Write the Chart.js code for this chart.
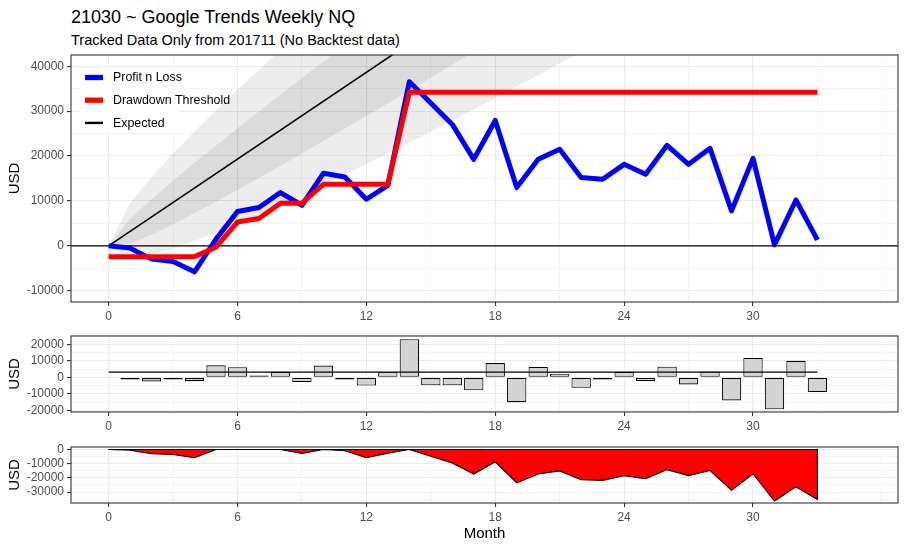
<!DOCTYPE html>
<html lang="en">
<head>
  <meta charset="UTF-8">
  <title>21030 ~ Google Trends Weekly NQ</title>
  <script src="https://cdn.jsdelivr.net/npm/chart.js"></script>
  <style>
    body {
      margin: 0;
      background: white;
      font-family: 'Liberation Sans', Arial, sans-serif;
    }

    #quadro {
      position: relative;
      width: 906px;
      height: 549px;
    }

    canvas {
      position: absolute;
      left: 0;
    }

    .titulo {
      position: absolute;
      left: 71px;
      top: 7.5px;
      font-size: 18px;
      line-height: 1;
      color: black;
      white-space: nowrap;
    }

    .subtitulo {
      position: absolute;
      left: 71px;
      top: 33px;
      font-size: 14.5px;
      line-height: 1;
      color: black;
      white-space: nowrap;
    }
  </style>
</head>
<body>
  <div id="quadro">
    <div class="titulo">21030 ~ Google Trends Weekly NQ</div>
    <div class="subtitulo">Tracked Data Only from 201711 (No Backtest data)</div>
    <canvas id="grafTopo" width="906" height="324" style="top:0px"></canvas>
    <canvas id="grafMeio" width="906" height="109" style="top:325px"></canvas>
    <canvas id="grafBase" width="906" height="115" style="top:434px"></canvas>
  </div>

  <script>
    // valores
    const meses = [0,1,2,3,4,5,6,7,8,9,10,11,12,13,14,15,16,17,18,19,20,21,22,23,24,25,26,27,28,29,30,31,32,33];
    const lucroPrejuizo = [0,-500,-2950,-3470,-5780,1500,7640,8530,11870,9040,16150,15330,10380,13490,36530,31800,27040,19270,27930,12980,19270,21490,15200,14820,18150,15930,22380,18150,21710,7780,19490,220,10220,1330];
    const limiteDrawdown = [-2400,-2400,-2400,-2400,-2400,-300,5300,6100,9500,9500,13700,13700,13700,13700,34200,34200,34200,34200,34200,34200,34200,34200,34200,34200,34200,34200,34200,34200,34200,34200,34200,34200,34200,34200];

    // barras mensais (meses 1..33)
    const mesesBarras = [1,2,3,4,5,6,7,8,9,10,11,12,13,14,15,16,17,18,19,20,21,22,23,24,25,26,27,28,29,30,31,32,33];
    const retornoMensal = [-500,-2450,-520,-2310,7280,6140,890,3340,-2830,7110,-820,-4950,3110,23040,-4730,-4760,-7770,8660,-14950,6290,2220,-6290,-380,3330,-2220,6450,-4230,3560,-13930,11710,-19270,10000,-8890];
    const mediaMensal = 3200;

    const drawdown = [0,-500,-2950,-3470,-5780,0,0,0,0,-2830,0,-820,-5770,-2660,0,-4730,-9490,-17260,-8600,-23550,-17260,-15040,-21330,-21710,-18380,-20600,-14150,-18380,-14820,-28750,-17040,-36310,-26310,-35200];

    // esperado e faixas (cinza)
    const esperadoMeses = [0, 35];
    const esperadoValores = [0, 112700];
    const mesesBanda = [0,1,2,3,4,5,6,7,8,9,10,11,12,13,14,15,16,17,18,19,20,21,22,23];
    const bandaSup2 = [0,9520,15350,20570,25480,30190,34750,39210,43580,47880,52120,56320,60460,64580,68650,72700,76720,80720,84690,88640,92570,96490,100390,104270];
    const bandaSup1 = [0,6020,10400,14510,18480,22360,26180,29950,33680,37380,41050,44710,48340,51960,55560,59140,62720,66290,69840,73390,76920,80450,83970,87490];
    const bandaInf1 = [0,420,2480,4810,7280,9840,12460,15130,17840,20580,23350,26130,28940,31760,34600,37460,40320,43200,46080,48980,51880,54790,57710,60630];
    const bandaInf2 = [0,-2680,-1900,-560,1080,2910,4870,6930,9070,11280,13540,15850,18200,20590,23000,25450,27920,30410,32930,35460,38010,40580,43170,45770];

    // eixos
    const limiteX = [-1.75, 36.75];
    const marcasX = [0,6,12,18,24,30];
    const gradeX = [0,3,6,9,12,15,18,21,24,27,30,33,36];
    const limiteYTopo = [-12500, 42500];
    const marcasYTopo = [-10000,0,10000,20000,30000,40000];
    const gradeYTopo = [-10000,-5000,0,5000,10000,15000,20000,25000,30000,35000,40000];
    const limiteYMeio = [-20900, 25000];
    const marcasYMeio = [-20000,-10000,0,10000,20000];
    const gradeYMeio = [-20000,-15000,-10000,-5000,0,5000,10000,15000,20000];
    const limiteYBase = [-37700, 1800];
    const marcasYBase = [-30000,-20000,-10000,0];
    const gradeYBase = [-35000,-30000,-25000,-20000,-15000,-10000,-5000,0];

    const fonte = "'Liberation Sans', Arial, sans-serif";

    function pontos(xs, ys) {
      return xs.map((x, i) => ({ x: x, y: ys[i] }));
    }

    function opcoesGrade(marcas) {
      const ehMarca = c => c.tick && marcas.includes(c.tick.value);
      return {
        offset: false,
        color: '#ebebeb',
        lineWidth: c => ehMarca(c) ? 1.1 : 0.55,
        tickLength: 4,
        tickWidth: 1.1,
        tickColor: c => ehMarca(c) ? '#333333' : 'rgba(0,0,0,0)'
      };
    }

    function eixoX(altura, comTitulo) {
      return {
        type: 'linear',
        min: limiteX[0],
        max: limiteX[1],
        offset: false,
        afterBuildTicks: s => { s.ticks = gradeX.map(v => ({ value: v })); },
        afterFit: s => { s.height = altura; },
        border: { display: false },
        grid: opcoesGrade(marcasX),
        ticks: {
          autoSkip: false,
          maxRotation: 0,
          padding: 3,
          color: '#4d4d4d',
          font: { family: fonte, size: 12 },
          callback: v => marcasX.includes(v) ? String(v) : ''
        },
        title: {
          display: comTitulo,
          text: 'Month',
          color: '#000000',
          font: { family: fonte, size: 15 },
          padding: { top: 0, bottom: 6 }
        }
      };
    }

    function eixoY(limite, grade, marcas) {
      return {
        type: 'linear',
        min: limite[0],
        max: limite[1],
        afterBuildTicks: s => { s.ticks = grade.map(v => ({ value: v })); },
        afterFit: s => { s.width = 71; },
        border: { display: false },
        grid: opcoesGrade(marcas),
        ticks: {
          autoSkip: false,
          padding: 3,
          color: '#4d4d4d',
          font: { family: fonte, size: 12 },
          callback: v => marcas.includes(v) ? String(v) : ''
        },
        title: {
          display: true,
          text: 'USD',
          color: '#000000',
          font: { family: fonte, size: 15 },
          padding: { top: 6, bottom: 0 }
        }
      };
    }

    // moldura do painel
    const moldura = {
      id: 'moldura',
      afterDatasetsDraw(chart) {
        const { ctx, chartArea: a } = chart;
        ctx.save();
        ctx.strokeStyle = '#333333';
        ctx.lineWidth = 1.1;
        ctx.strokeRect(a.left, a.top, a.right - a.left, a.bottom - a.top);
        ctx.restore();
      }
    };

    // legenda dentro do painel de cima
    const legendaTopo = {
      id: 'legendaTopo',
      afterDatasetsDraw(chart) {
        const ctx = chart.ctx;
        const itens = chart.data.datasets.filter(d => d.naLegenda);
        itens.sort((a, b) => a.naLegenda - b.naLegenda);
        ctx.save();
        ctx.fillStyle = '#ffffff';
        ctx.fillRect(81, 67, 98, 66);
        itens.forEach((d, i) => {
          const y = 77.5 + i * 22.7;
          ctx.strokeStyle = d.borderColor;
          ctx.lineWidth = d.larguraChave;
          ctx.beginPath();
          ctx.moveTo(85, y);
          ctx.lineTo(103, y);
          ctx.stroke();
          ctx.fillStyle = '#000000';
          ctx.font = '12.4px ' + fonte;
          ctx.textBaseline = 'middle';
          ctx.fillText(d.label, 113, y + 0.5);
        });
        ctx.restore();
      }
    };

    const semPontos = { pointRadius: 0, pointHoverRadius: 0, tension: 0 };
    const cinza = 'rgba(0,0,0,0.075)';

    // Painel de cima
    new Chart(document.getElementById('grafTopo'), {
      type: 'line',
      data: {
        datasets: [
          { ...semPontos, label: 'banda2sup', data: pontos(mesesBanda, bandaSup2), borderWidth: 0, borderColor: 'rgba(0,0,0,0)', backgroundColor: cinza, fill: '+1', order: 10 },
          { ...semPontos, label: 'banda2inf', data: pontos(mesesBanda, bandaInf2), borderWidth: 0, borderColor: 'rgba(0,0,0,0)', fill: false, order: 10 },
          { ...semPontos, label: 'banda1sup', data: pontos(mesesBanda, bandaSup1), borderWidth: 0, borderColor: 'rgba(0,0,0,0)', backgroundColor: cinza, fill: '+1', order: 9 },
          { ...semPontos, label: 'banda1inf', data: pontos(mesesBanda, bandaInf1), borderWidth: 0, borderColor: 'rgba(0,0,0,0)', fill: false, order: 9 },
          { ...semPontos, label: 'zero', data: pontos(limiteX, [0, 0]), borderWidth: 1.1, borderColor: '#000000', fill: false, order: 8 },
          { ...semPontos, label: 'Expected', data: pontos(esperadoMeses, esperadoValores), borderWidth: 1.6, borderColor: '#000000', fill: false, order: 7, naLegenda: 3, larguraChave: 2.4 },
          { ...semPontos, label: 'Profit n Loss', data: pontos(meses, lucroPrejuizo), borderWidth: 5, borderColor: '#0000ff', borderJoinStyle: 'round', fill: false, order: 2, naLegenda: 1, larguraChave: 5.3 },
          { ...semPontos, label: 'Drawdown Threshold', data: pontos(meses, limiteDrawdown), borderWidth: 5, borderColor: '#ff0000', borderJoinStyle: 'round', fill: false, order: 1, naLegenda: 2, larguraChave: 5.3 }
        ]
      },
      options: {
        responsive: false,
        animation: false,
        layout: { padding: { top: 55, right: 8, left: 0, bottom: 0 } },
        plugins: { legend: { display: false }, tooltip: { enabled: false } },
        scales: {
          x: eixoX(22, false),
          y: eixoY(limiteYTopo, gradeYTopo, marcasYTopo)
        }
      },
      plugins: [moldura, legendaTopo]
    });

    // Painel do meio: retorno mensal
    new Chart(document.getElementById('grafMeio'), {
      type: 'bar',
      data: {
        datasets: [
          { type: 'line', ...semPontos, label: 'media', data: pontos([0, 33], [mediaMensal, mediaMensal]), borderWidth: 1.1, borderColor: '#000000', fill: false, order: 0 },
          { type: 'bar', label: 'mensal', data: pontos(mesesBarras, retornoMensal), backgroundColor: '#d3d3d3', borderColor: '#000000', borderWidth: 1.1, borderSkipped: false, minBarLength: 2, barPercentage: 0.9, categoryPercentage: 1.0, order: 1 }
        ]
      },
      options: {
        responsive: false,
        animation: false,
        layout: { padding: { top: 11, right: 8, left: 0, bottom: 0 } },
        plugins: { legend: { display: false }, tooltip: { enabled: false } },
        scales: {
          x: eixoX(22, false),
          y: eixoY(limiteYMeio, gradeYMeio, marcasYMeio)
        }
      },
      plugins: [moldura]
    });

    // Painel de baixo: drawdown
    new Chart(document.getElementById('grafBase'), {
      type: 'line',
      data: {
        datasets: [
          { ...semPontos, label: 'contorno', data: [{ x: meses[meses.length - 1], y: drawdown[drawdown.length - 1] }, { x: meses[meses.length - 1], y: 0 }, { x: meses[0], y: 0 }], borderWidth: 1.1, borderColor: '#000000', fill: false, order: 0 },
          { ...semPontos, label: 'drawdown', data: pontos(meses, drawdown), borderWidth: 1.1, borderColor: '#000000', backgroundColor: '#ff0000', fill: 'origin', order: 1 }
        ]
      },
      options: {
        responsive: false,
        animation: false,
        layout: { padding: { top: 13, right: 8, left: 0, bottom: 0 } },
        plugins: { legend: { display: false }, tooltip: { enabled: false } },
        scales: {
          x: eixoX(46, true),
          y: eixoY(limiteYBase, gradeYBase, marcasYBase)
        }
      },
      plugins: [moldura]
    });
  </script>
</body>
</html>
